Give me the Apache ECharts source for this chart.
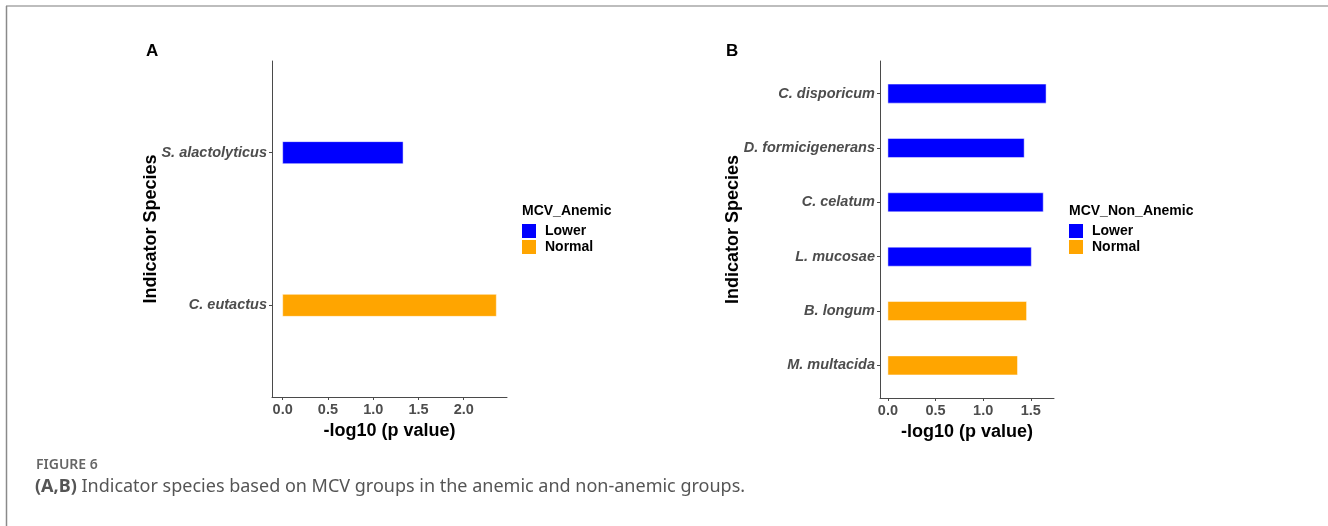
<!DOCTYPE html>
<html>
<head>
<meta charset="utf-8">
<script src="https://cdn.jsdelivr.net/npm/echarts@6/dist/echarts.min.js"></script>
<style>
  html, body { margin: 0; padding: 0; background: #fff; }
  #chart { width: 1328px; height: 526px; }
</style>
</head>
<body>
<div id="chart"></div>
<script>
// 图A：贫血组 (bottom -> top)
const speciesA = ['C. eutactus', 'S. alactolyticus'];
const valuesA = [2.36, 1.33];
const groupsA = ['Normal', 'Lower'];

// 图B：非贫血组 (bottom -> top)
const speciesB = ['M. multacida', 'B. longum', 'L. mucosae', 'C. celatum', 'D. formicigenerans', 'C. disporicum'];
const valuesB = [1.36, 1.455, 1.505, 1.63, 1.43, 1.66];
const groupsB = ['Normal', 'Normal', 'Lower', 'Lower', 'Lower', 'Lower'];

const groupNames = ['Lower', 'Normal'];
const groupColors = { Lower: '#0000FF', Normal: '#FFA500' };
const ticksA = [0, 0.5, 1, 1.5, 2];
const ticksB = [0, 0.5, 1, 1.5];

const FONT = 'Liberation Sans, Arial, sans-serif';
const AXIS_COLOR = '#4a4a4a';
const LABEL_COLOR = '#4D4D4D';

// ggplot 风格的坐标范围（5% 扩展）
function xRange(values) {
  const m = Math.max.apply(null, values);
  return { min: -m * 0.05, max: m * 1.05 };
}

/*
 * 水平条形：用坐标系换算位置
 * */
function barRenderer(bandFrac) {
  return function (params, api) {
    const pos = api.value(1);
    const start = api.coord([0, pos]);
    const end = api.coord([api.value(0), pos]);
    const h = api.size([0, bandFrac])[1];
    return {
      type: 'rect',
      shape: { x: start[0], y: start[1] - h / 2, width: end[0] - start[0], height: h },
      style: { fill: api.visual('color'), stroke: 'rgba(255,255,255,0.6)', lineWidth: 0.8 }
    };
  };
}

function makeSeries(values, groups, gridIndex, bandFrac) {
  return groupNames.map(function (g) {
    const data = [];
    values.forEach(function (v, i) {
      if (groups[i] === g) data.push([v, i + 1]);
    });
    return {
      type: 'custom',
      name: g,
      xAxisIndex: gridIndex,
      yAxisIndex: gridIndex,
      itemStyle: { color: groupColors[g] },
      encode: { x: 0, y: 1 },
      renderItem: barRenderer(bandFrac),
      data: data,
      silent: true
    };
  });
}

function makeXAxis(values, ticks, gridIndex) {
  const r = xRange(values);
  return {
    type: 'value',
    gridIndex: gridIndex,
    min: r.min,
    max: r.max,
    name: '-log10 (p value)',
    nameLocation: 'middle',
    nameGap: 20,
    nameTextStyle: { fontFamily: FONT, fontSize: 18, fontWeight: 'bold', color: '#000' },
    axisLine: { show: true, onZero: false, lineStyle: { color: AXIS_COLOR, width: 1 } },
    axisTick: { show: true, length: 3, customValues: ticks, lineStyle: { color: AXIS_COLOR } },
    axisLabel: {
      customValues: ticks,
      margin: 5,
      fontFamily: FONT, fontSize: 14.5, fontWeight: 'bold', color: LABEL_COLOR,
      formatter: function (v) { return v.toFixed(1); }
    },
    splitLine: { show: false }
  };
}

function makeYAxis(species, gridIndex, nameGap) {
  const pos = species.map(function (s, i) { return i + 1; });
  return {
    type: 'value',
    gridIndex: gridIndex,
    min: 0.4,
    max: species.length + 0.6,
    name: 'Indicator Species',
    nameLocation: 'middle',
    nameGap: nameGap,
    nameMoveOverlap: false,
    nameTextStyle: { fontFamily: FONT, fontSize: 18, fontWeight: 'bold', color: '#000' },
    axisLine: { show: true, onZero: false, lineStyle: { color: AXIS_COLOR, width: 1 } },
    axisTick: { show: true, length: 3, customValues: pos, lineStyle: { color: AXIS_COLOR } },
    axisLabel: {
      customValues: pos,
      margin: 5,
      fontFamily: FONT, fontSize: 14.5, fontWeight: 'bold', fontStyle: 'italic', color: LABEL_COLOR,
      formatter: function (v) { return species[Math.round(v) - 1]; }
    },
    splitLine: { show: false }
  };
}

function makeLegend(left) {
  return {
    data: groupNames,
    left: left,
    top: 224,
    orient: 'vertical',
    icon: 'rect',
    itemWidth: 14,
    itemHeight: 14,
    itemGap: 2,
    padding: 0,
    selectedMode: false,
    textStyle: { fontFamily: FONT, fontSize: 14, fontWeight: 'bold', color: '#000', padding: [3, 0, 0, 4] }
  };
}

function makeTitle(text, left, top, size) {
  return {
    text: text, left: left, top: top, padding: 0,
    textStyle: { fontFamily: FONT, fontSize: size, fontWeight: 'bold', color: '#000' }
  };
}

const chart = echarts.init(document.getElementById('chart'), null, { renderer: 'canvas' });

chart.setOption({
  backgroundColor: '#fff',
  animation: false,
  title: [
    makeTitle('A', 146, 43, 17),
    makeTitle('B', 726, 43, 17),
    makeTitle('MCV_Anemic', 522, 204, 14),
    makeTitle('MCV_Non_Anemic', 1069, 204, 14)
  ],
  legend: [makeLegend(522), makeLegend(1069)],
  grid: [
    { left: 272, top: 61, width: 235, height: 336 },
    { left: 880, top: 61, width: 174, height: 337 }
  ],
  xAxis: [makeXAxis(valuesA, ticksA, 0), makeXAxis(valuesB, ticksB, 1)],
  yAxis: [makeYAxis(speciesA, 0, 112), makeYAxis(speciesB, 1, 138)],
  series: makeSeries(valuesA, groupsA, 0, 0.144).concat(makeSeries(valuesB, groupsB, 1, 0.35)),
  graphic: [
    // 外框
    { type: 'line', shape: { x1: 6, y1: 6, x2: 1328, y2: 6 }, style: { stroke: '#bdbdbd', lineWidth: 2 }, silent: true },
    { type: 'line', shape: { x1: 6.5, y1: 6, x2: 6.5, y2: 526 }, style: { stroke: '#8a8a8a', lineWidth: 1.5 }, silent: true },
    // 图注
    {
      type: 'text', left: 36, top: 458, silent: true,
      style: { text: 'FIGURE 6', fontFamily: 'Noto Sans', fontSize: 14, fontWeight: 600, fill: '#666' }
    },
    {
      type: 'text', left: 35, top: 478, silent: true,
      style: {
        text: '{b|(A,B)} Indicator species based on MCV groups in the anemic and non-anemic groups.',
        fontFamily: 'Noto Sans', fontSize: 18, fill: '#555',
        rich: { b: { fontFamily: 'Noto Sans', fontSize: 18, fontWeight: 'bold', fill: '#555' } }
      }
    }
  ]
});
</script>
</body>
</html>
